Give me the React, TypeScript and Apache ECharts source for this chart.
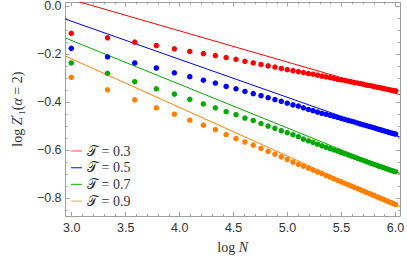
import React, { useEffect, useRef } from "react";
import * as echarts from "echarts";

const logN = [2.996, 3.332, 3.584, 3.784, 3.951, 4.094, 4.220, 4.331, 4.431, 4.522, 4.605, 4.682, 4.754, 4.820, 4.883, 4.942, 4.997, 5.050, 5.100, 5.147, 5.193, 5.236, 5.278, 5.318, 5.357, 5.394, 5.429, 5.464, 5.497, 5.529, 5.561, 5.591, 5.620, 5.649, 5.677, 5.704, 5.730, 5.756, 5.781, 5.805, 5.829, 5.852, 5.875, 5.897, 5.919, 5.940, 5.961, 5.981, 6.001];

const dotsT03 = [-0.112, -0.131, -0.149, -0.163, -0.177, -0.188, -0.197, -0.205, -0.2135, -0.2205, -0.229, -0.236, -0.242, -0.248, -0.253, -0.259, -0.264, -0.268, -0.272, -0.276, -0.280, -0.283, -0.287, -0.291, -0.294, -0.297, -0.300, -0.304, -0.307, -0.309, -0.312, -0.315, -0.318, -0.320, -0.322, -0.325, -0.328, -0.330, -0.332, -0.335, -0.337, -0.339, -0.341, -0.3435, -0.3456, -0.3476, -0.3497, -0.3511, -0.3525];
const dotsT05 = [-0.175, -0.211, -0.236, -0.257, -0.277, -0.293, -0.308, -0.320, -0.334, -0.344, -0.355, -0.364, -0.3725, -0.381, -0.389, -0.396, -0.404, -0.411, -0.416, -0.423, -0.430, -0.435, -0.441, -0.446, -0.4505, -0.4546, -0.4589, -0.4633, -0.4675, -0.4716, -0.4756, -0.4793, -0.4828, -0.4869, -0.4908, -0.4940, -0.4976, -0.5012, -0.5041, -0.5074, -0.5107, -0.5138, -0.5169, -0.5198, -0.5228, -0.5256, -0.5284, -0.5305, -0.5327];
const dotsT07 = [-0.236, -0.279, -0.314, -0.344, -0.366, -0.388, -0.407, -0.423, -0.4394, -0.452, -0.466, -0.476, -0.489, -0.4998, -0.509, -0.519, -0.527, -0.5355, -0.5437, -0.554, -0.561, -0.568, -0.575, -0.582, -0.5879, -0.5937, -0.5991, -0.6044, -0.6100, -0.6148, -0.6201, -0.6246, -0.6294, -0.6342, -0.6388, -0.6432, -0.6475, -0.6517, -0.6558, -0.6597, -0.6636, -0.6673, -0.6710, -0.6745, -0.6780, -0.6813, -0.6847, -0.6873, -0.6900];
const dotsT09 = [-0.296, -0.348, -0.390, -0.423, -0.450, -0.475, -0.496, -0.514, -0.535, -0.552, -0.566, -0.579, -0.593, -0.605, -0.617, -0.628, -0.639, -0.650, -0.659, -0.667, -0.675, -0.683, -0.6915, -0.698, -0.706, -0.713, -0.7196, -0.7262, -0.7324, -0.7384, -0.7444, -0.7500, -0.7554, -0.7607, -0.7659, -0.7709, -0.7762, -0.7810, -0.7855, -0.7904, -0.7948, -0.7990, -0.8036, -0.8076, -0.8116, -0.8158, -0.8196, -0.8231, -0.8272];

// fitted straight lines, evaluated at the two ends of the x range
const fitX = [2.94, 6.04];
const fitT03 = [0.0362, -0.368];
const fitT05 = [-0.0525, -0.545];
const fitT07 = [-0.1315, -0.6976];
const fitT09 = [-0.2068, -0.836];

const temps = ["0.3", "0.5", "0.7", "0.9"];
const xMajor = [3.0, 3.5, 4.0, 4.5, 5.0, 5.5, 6.0];
const xMinor = [3.1, 3.2, 3.3, 3.4, 3.6, 3.7, 3.8, 3.9, 4.1, 4.2, 4.3, 4.4, 4.6, 4.7, 4.8, 4.9, 5.1, 5.2, 5.3, 5.4, 5.6, 5.7, 5.8, 5.9];
const yMajor = [-0.8, -0.6, -0.4, -0.2, 0.0];
const yMinor = [-0.85, -0.75, -0.7, -0.65, -0.55, -0.5, -0.45, -0.35, -0.3, -0.25, -0.15, -0.1, -0.05];

const X_MIN = 2.943;
const X_MAX = 6.04;
const Y_MIN = -0.875;
const Y_MAX = 0.017;

const colors = ["#ff0000", "#0000ff", "#00a800", "#ff8000"];
const legendColors = ["#ff7070", "#3030ff", "#40b840", "#ffb060"];
const FRAME = "#a0a0a0";
const SERIF = "'Liberation Serif', 'DejaVu Serif', serif";
const SANS = "'Liberation Sans', Arial, sans-serif";

export default function App() {
  const ref = useRef<HTMLDivElement>(null);
  useEffect(() => {
    if (!ref.current) return;
    const chart = echarts.init(ref.current, undefined, { renderer: "svg" });
    const dots = [dotsT03, dotsT05, dotsT07, dotsT09];
    const fits = [fitT03, fitT05, fitT07, fitT09];

    const mkX = (pos: "bottom" | "top", values: number[], len: number, labels: boolean, line: boolean) => ({
      type: "value",
      position: pos,
      min: X_MIN,
      max: X_MAX,
      axisLine: { show: line, onZero: false, lineStyle: { color: FRAME, width: 1 } },
      axisTick: { show: true, inside: true, length: len, customValues: values, lineStyle: { color: FRAME, width: 1 } },
      axisLabel: labels
        ? { show: true, customValues: values, margin: 5, color: "#333", fontFamily: SANS, fontSize: 12.5, formatter: (v: number) => v.toFixed(1) }
        : { show: false },
      splitLine: { show: false },
    });
    const mkY = (pos: "left" | "right", values: number[], len: number, labels: boolean, line: boolean) => ({
      type: "value",
      position: pos,
      min: Y_MIN,
      max: Y_MAX,
      axisLine: { show: line, onZero: false, lineStyle: { color: FRAME, width: 1 } },
      axisTick: { show: true, inside: true, length: len, customValues: values, lineStyle: { color: FRAME, width: 1 } },
      axisLabel: labels
        ? {
            show: true,
            customValues: values,
            margin: 4,
            color: "#333",
            fontFamily: SANS,
            fontSize: 12.5,
            formatter: (v: number) => (Math.abs(v) < 1e-9 ? "0.0" : "\u2212" + Math.abs(v).toFixed(1)),
          }
        : { show: false },
      splitLine: { show: false },
    });

    const xAxes: any[] = [
      mkX("bottom", xMajor, 4, true, true),
      mkX("bottom", xMinor, 2, false, false),
      mkX("top", xMajor, 4, false, true),
      mkX("top", xMinor, 2, false, false),
    ];
    xAxes[0].name = "{t|log }{i|N}";
    xAxes[0].nameLocation = "middle";
    xAxes[0].nameGap = 24;
    xAxes[0].nameTextStyle = {
      fontFamily: SERIF,
      fontSize: 14,
      color: "#333",
      rich: {
        t: { fontFamily: SERIF, fontSize: 14, color: "#333" },
        i: { fontFamily: SERIF, fontSize: 14, color: "#333", fontStyle: "italic" },
      },
    };
    const yAxes: any[] = [
      mkY("left", yMajor, 4, true, true),
      mkY("left", yMinor, 2, false, false),
      mkY("right", yMajor, 4, false, true),
      mkY("right", yMinor, 2, false, false),
    ];
    yAxes[0].name = "{t|log }{i|Z}{p|\u2032}{s|1}{t|(}{i|\u03b1}{t| = 2)}";
    yAxes[0].nameLocation = "middle";
    yAxes[0].nameRotate = 90;
    yAxes[0].nameGap = 38;
    yAxes[0].nameTextStyle = {
      fontFamily: SERIF,
      fontSize: 14,
      color: "#333",
      rich: {
        t: { fontFamily: SERIF, fontSize: 14, color: "#333", lineHeight: 18 },
        i: { fontFamily: SERIF, fontSize: 14, color: "#333", fontStyle: "italic", lineHeight: 18 },
        p: { fontFamily: SERIF, fontSize: 13, color: "#333", verticalAlign: "top", lineHeight: 18 },
        s: { fontFamily: SERIF, fontSize: 9, color: "#333", verticalAlign: "bottom", lineHeight: 18 },
      },
    };

    const series: any[] = [];
    temps.forEach((t, k) => {
      series.push({
        name: t,
        type: "line",
        xAxisIndex: 0,
        yAxisIndex: 0,
        data: fitX.map((x, i) => [x, fits[k][i]]),
        showSymbol: false,
        symbol: "none",
        clip: true,
        lineStyle: { color: colors[k], width: 1 },
        itemStyle: { color: colors[k] },
        z: 2,
      });
    });
    temps.forEach((t, k) => {
      series.push({
        name: "dots" + t,
        type: "scatter",
        xAxisIndex: 0,
        yAxisIndex: 0,
        data: logN.map((x, i) => [x, dots[k][i]]),
        symbol: "circle",
        symbolSize: 5.5,
        itemStyle: { color: colors[k], opacity: 1 },
        z: 3,
      });
    });

    chart.setOption({
      animation: false,
      backgroundColor: "#ffffff",
      grid: { left: 53, right: 5, top: 1, bottom: 41, containLabel: false },
      xAxis: xAxes,
      yAxis: yAxes,
      legend: {
        show: true,
        orient: "vertical",
        left: 66,
        top: 139,
        itemWidth: 11,
        itemHeight: 1.2,
        itemGap: 2.7,
        icon: "rect",
        data: temps.map((t, k) => ({ name: t, icon: "rect", itemStyle: { color: legendColors[k] } })),
        formatter: (name: string) => `{i|\u{1D4AF}}{t| = ${name}}`,
        textStyle: {
          fontFamily: SERIF,
          fontSize: 14,
          color: "#333",
          rich: {
            i: { fontFamily: SERIF, fontSize: 14, color: "#333", lineHeight: 14 },
            t: { fontFamily: SERIF, fontSize: 14, color: "#333", lineHeight: 14 },
          },
        },
      },
      series,
    });
    return () => chart.dispose();
  }, []);
  return (
    <div
      ref={ref}
      style={{ position: "absolute", left: 0, top: 0, width: 407, height: 259, background: "#fff" }}
    />
  );
}
